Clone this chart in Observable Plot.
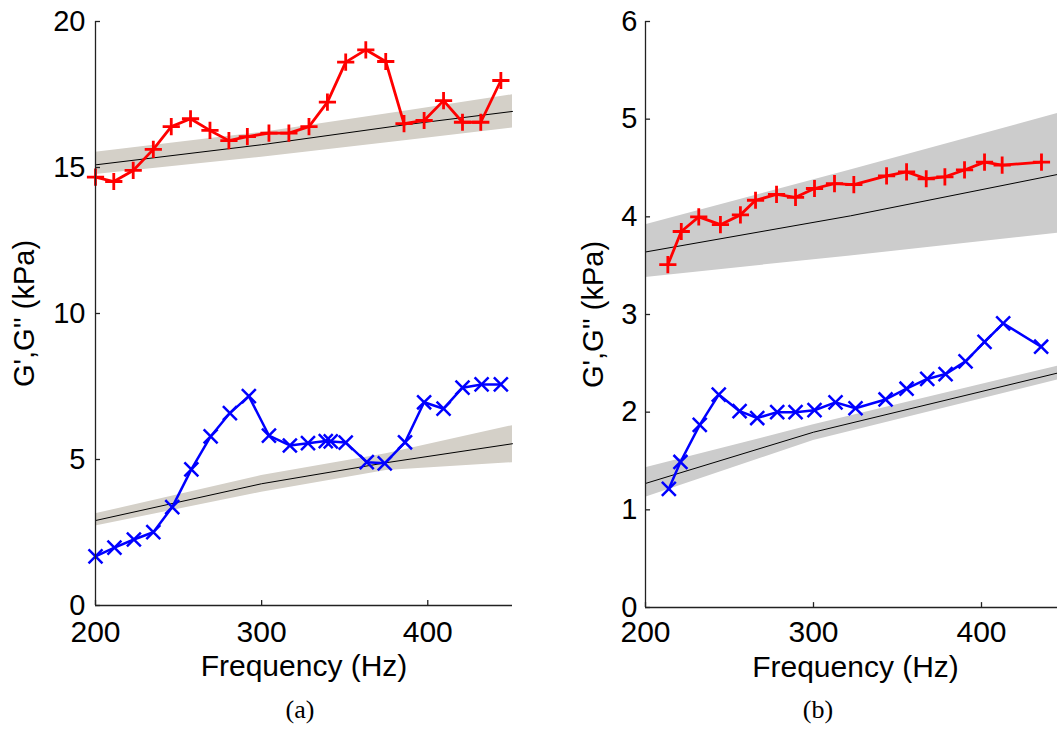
<!DOCTYPE html>
<html><head><meta charset="utf-8">
<script src="https://cdn.jsdelivr.net/npm/d3@7"></script>
<script src="https://cdn.jsdelivr.net/npm/@observablehq/plot@0.6"></script>
<style>
html,body{margin:0;padding:0;background:#fff;width:1057px;height:755px;overflow:hidden;position:relative;font-family:"Liberation Sans",Arial,sans-serif}
#a{position:absolute;left:0;top:0;width:530px;height:690px}
#b{position:absolute;left:530px;top:0;width:540px;height:690px}
#a svg,#b svg{max-width:none !important}
.cap{position:absolute;top:697px;font-family:"Liberation Serif","Times New Roman",serif;font-size:26px;line-height:1;transform:translateX(-50%);color:#000}
</style></head><body>
<div id="a"></div><div id="b"></div>
<div class="cap" style="left:300px">(a)</div>
<div class="cap" style="left:818px">(b)</div>
<script>
// ---------- Panel (a) ----------
const freqA_Gp = [200,211,222.7,234.8,245.6,257.2,268.9,280.3,291.4,304.4,316.4,328.5,339.6,350.6,362.7,374.7,385.7,397.8,409.5,420.9,431.9,444];
const valA_Gp  = [14.67,14.52,14.90,15.62,16.40,16.67,16.27,15.92,16.06,16.18,16.18,16.40,17.24,18.61,19.03,18.63,16.50,16.61,17.29,16.55,16.55,17.98];
const freqA_Gpp = [200,211.4,223.1,234.8,246.2,257.7,269.3,280.9,292.3,304.4,317,327.9,338.6,341.6,350.6,363.3,374.1,386.3,397.8,409.5,420.9,432.4,444];
const valA_Gpp  = [1.68,1.98,2.26,2.51,3.37,4.66,5.79,6.59,7.17,5.82,5.48,5.56,5.63,5.62,5.58,4.91,4.87,5.59,6.96,6.74,7.46,7.57,7.57];
const fitFreqA_Gp = [200,300,386,451];
const fitA_Gp   = [15.09,15.78,16.46,16.92];
const fitA_GpLo = [14.76,15.35,15.92,16.35];
const fitA_GpHi = [15.52,16.20,16.93,17.49];
const fitFreqA_Gpp = [200,300,375,451];
const fitA_Gpp   = [2.91,4.17,4.89,5.54];
const fitA_GppLo = [2.72,3.88,4.62,4.89];
const fitA_GppHi = [3.14,4.45,5.20,6.16];
const yTicksA = [0,5,10,15,20];

// ---------- Panel (b) ----------
const freqB_Gp = [213.3,221.3,231.7,244.6,256.5,265.5,278,289.3,300.6,312.5,324,343.5,355.4,367.1,378.2,389.9,401.8,412.3,435.7];
const valB_Gp  = [3.51,3.85,4.00,3.92,4.02,4.17,4.23,4.20,4.29,4.34,4.33,4.42,4.46,4.39,4.41,4.48,4.56,4.53,4.56];
const freqB_Gpp = [213.9,220.8,232.3,243.6,256,266.5,278.4,289.3,300.6,313.1,325,342.9,355.4,367.7,378.6,390.5,401.8,412.9,435.5];
const valB_Gpp  = [1.215,1.49,1.87,2.18,2.01,1.94,2.00,2.00,2.02,2.10,2.04,2.13,2.24,2.34,2.39,2.52,2.72,2.91,2.67];
const fitFreqB_Gp = [200,322,450];
const fitB_Gp   = [3.64,4.01,4.45];
const fitB_GpLo = [3.38,3.60,3.84];
const fitB_GpHi = [3.92,4.48,5.08];
const fitFreqB_Gpp = [200,300,450];
const fitB_Gpp   = [1.27,1.795,2.42];
const fitB_GppLo = [1.13,1.71,2.35];
const fitB_GppHi = [1.43,1.87,2.49];
const yTicksB = [0,1,2,3,4,5,6];

const xTicks = [200,300,400];
const xLabel = "Frequency (Hz)";
const yLabel = "G',G'' (kPa)";

const zipS = (f, v) => f.map((x, i) => ({f: x, v: v[i]}));
const zipB = (f, m, lo, hi) => f.map((x, i) => ({f: x, m: m[i], lo: lo[i], hi: hi[i]}));

function panel(o) {
  const axisColor = "#222";
  const gp = zipS(o.fGp, o.vGp), gpp = zipS(o.fGpp, o.vGpp);
  const b1 = zipB(o.bfGp, o.bGp, o.bGpLo, o.bGpHi), b2 = zipB(o.bfGpp, o.bGpp, o.bGppLo, o.bGppHi);
  return Plot.plot({
    width: o.width, height: 690,
    marginLeft: o.marginLeft, marginRight: o.marginRight, marginTop: 21, marginBottom: o.marginBottom,
    x: {domain: o.xDomain},
    y: {domain: o.yDomain},
    style: {fontFamily: "'Liberation Sans', Arial, sans-serif", fontSize: "29px", color: "#000", background: "transparent", overflow: "visible", maxWidth: "none"},
    marks: [
      Plot.areaY(b1, {x: "f", y1: "lo", y2: "hi", fill: o.bandFill}),
      Plot.areaY(b2, {x: "f", y1: "lo", y2: "hi", fill: o.bandFill}),
      Plot.line(b1, {x: "f", y: "m", stroke: "#000", strokeWidth: 1}),
      Plot.line(b2, {x: "f", y: "m", stroke: "#000", strokeWidth: 1}),
      Plot.line(gpp, {x: "f", y: "v", stroke: "#0000ff", strokeWidth: 2.5}),
      Plot.dot(gpp, {x: "f", y: "v", symbol: "times", r: 6.4, stroke: "#0000ff", fill: "none", strokeWidth: 2.5}),
      Plot.line(gp, {x: "f", y: "v", stroke: "#ff0000", strokeWidth: 2.8}),
      Plot.dot(gp, {x: "f", y: "v", symbol: "plus", r: 5.6, stroke: "#ff0000", fill: "none", strokeWidth: 2.8}),
      Plot.ruleX([o.xDomain[0]], {stroke: axisColor, strokeWidth: 1.3}),
      Plot.ruleY([0], {stroke: axisColor, strokeWidth: 1.3}),
      Plot.ruleY(o.yTicks, {x1: o.xDomain[0], x2: o.xDomain[0] + 3, stroke: axisColor, strokeWidth: 1.3}),
      Plot.ruleX(xTicks, {y1: 0, y2: o.xTickLen, stroke: axisColor, strokeWidth: 1.3}),
      Plot.axisY({ticks: o.yTicks, tickSize: 0, tickPadding: o.yPad, label: yLabel, labelAnchor: "center", labelArrow: "none", labelOffset: o.yLabelOffset, tickFormat: d3.format("d")}),
      Plot.axisX({ticks: xTicks, tickSize: 0, tickPadding: o.xPad, label: xLabel, labelAnchor: "center", labelArrow: "none", labelOffset: o.xLabelOffset, tickFormat: d3.format("d"), fontSize: 30})
    ]
  });
}

document.getElementById("a").append(panel({
  width: 530, marginLeft: 95, marginRight: 18, marginBottom: 85,
  xDomain: [200, 451], yDomain: [0, 20], yTicks: yTicksA, xTickLen: 0.17,
  fGp: freqA_Gp, vGp: valA_Gp, fGpp: freqA_Gpp, vGpp: valA_Gpp,
  bfGp: fitFreqA_Gp, bGp: fitA_Gp, bGpLo: fitA_GpLo, bGpHi: fitA_GpHi,
  bfGpp: fitFreqA_Gpp, bGpp: fitA_Gpp, bGppLo: fitA_GppLo, bGppHi: fitA_GppHi,
  bandFill: "#d4d0c8", yPad: 10, xPad: 15, yLabelOffset: 82, xLabelOffset: 70
}));
document.getElementById("b").append(panel({
  width: 540, marginLeft: 115, marginRight: 5, marginBottom: 83,
  xDomain: [200, 450], yDomain: [0, 6], yTicks: yTicksB, xTickLen: 0.05,
  fGp: freqB_Gp, vGp: valB_Gp, fGpp: freqB_Gpp, vGpp: valB_Gpp,
  bfGp: fitFreqB_Gp, bGp: fitB_Gp, bGpLo: fitB_GpLo, bGpHi: fitB_GpHi,
  bfGpp: fitFreqB_Gpp, bGpp: fitB_Gpp, bGppLo: fitB_GppLo, bGppHi: fitB_GppHi,
  bandFill: "#cccccc", yPad: 8, xPad: 13, yLabelOffset: 63, xLabelOffset: 69
}));
</script>
</body></html>
